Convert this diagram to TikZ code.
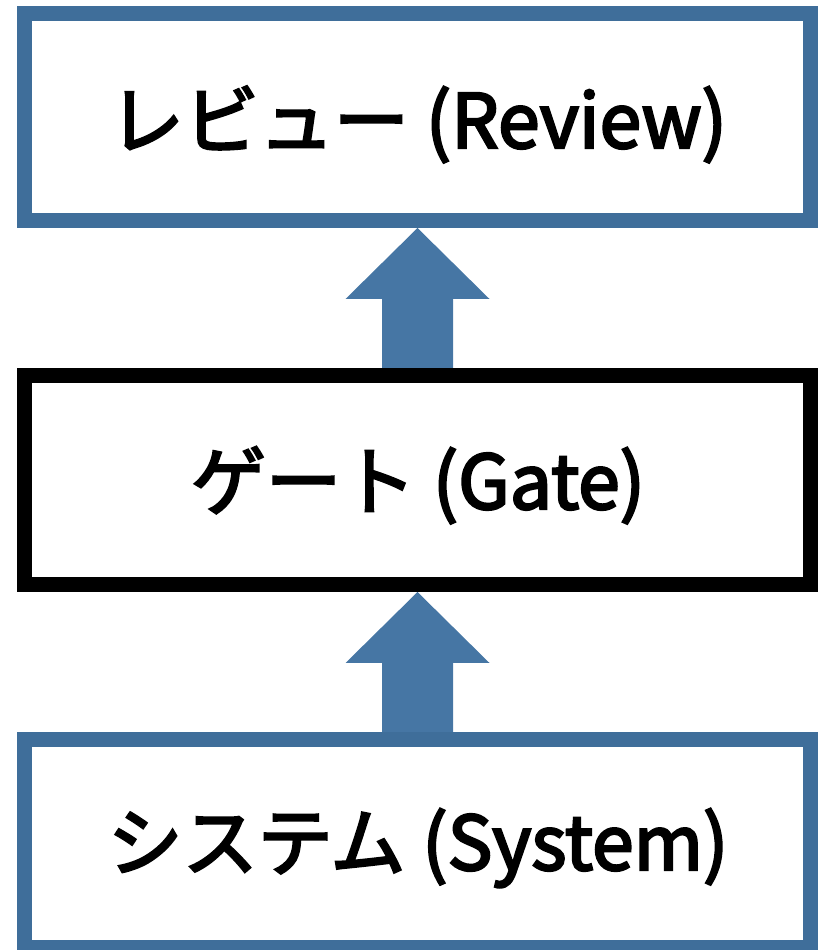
\documentclass[tikz,border=0pt]{standalone}
\usepackage{fontspec}
\setmainfont{Noto Sans CJK JP}
\usetikzlibrary{calc}
\definecolor{boxblue}{HTML}{3F6E9A}
\definecolor{arrowblue}{HTML}{4676A4}
\tikzset{
  stagebox/.style={draw=boxblue, line width=15pt, fill=white, minimum width=786pt, inner sep=0pt},
  gatebox/.style={stagebox, draw=black},
  stagelabel/.style={anchor=base, inner sep=0pt, font=\fontsize{75pt}{80pt}\selectfont\addfontfeature{FakeBold=3.2}},
  blockarrow/.style={fill=arrowblue}
}
\begin{document}
\begin{tikzpicture}[x=1pt,y=1pt]
\useasboundingbox (0,0) rectangle (821,950);
\node[stagebox, minimum height=207pt] (rev) at (417.5,833) {};
\node[gatebox, minimum height=209pt] (gate) at (417.5,470) {};
\node[stagebox, minimum height=208pt] (sys) at (417.5,106.5) {};
\node[stagelabel] (revt) at (418,802) {レビュー (Review)};
\node[stagelabel] (gatet) at (418,441) {ゲート (Gate)};
\node[stagelabel] (syst) at (418,80) {システム (System)};
\fill[blockarrow] ($(gate.north)+(-35.5,0)$) -- ($(rev.south)+(-35.5,-71)$) -- ($(rev.south)+(-72,-71)$) -- (rev.south) -- ($(rev.south)+(72,-71)$) -- ($(rev.south)+(35.5,-71)$) -- ($(gate.north)+(35.5,0)$) -- cycle;
\fill[blockarrow] ($(sys.north)+(-35.5,0)$) -- ($(gate.south)+(-35.5,-71)$) -- ($(gate.south)+(-72,-71)$) -- (gate.south) -- ($(gate.south)+(72,-71)$) -- ($(gate.south)+(35.5,-71)$) -- ($(sys.north)+(35.5,0)$) -- cycle;
\end{tikzpicture}
\end{document}
